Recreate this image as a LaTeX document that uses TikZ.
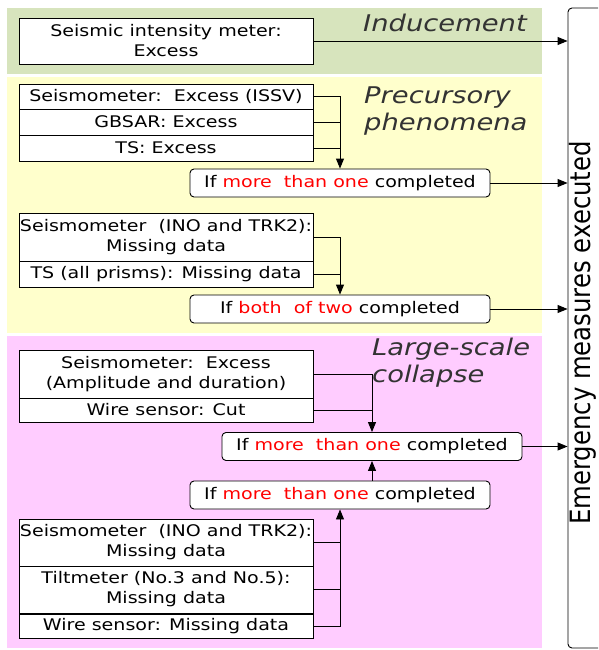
\documentclass[tikz,border=0pt]{standalone}
\usepackage{fontspec}
\setmainfont[FakeStretch=1.19]{DejaVu Sans}
\newfontfamily\sidefont[FakeStretch=0.87]{DejaVu Sans}
\usetikzlibrary{arrows.meta}

\definecolor{bandgreen}{RGB}{215,228,189}
\definecolor{bandyellow}{RGB}{255,255,204}
\definecolor{bandpink}{RGB}{255,204,255}

\tikzset{
    sensor/.style={draw,line width=0.9pt,fill=white,minimum width=294pt,inner sep=0pt,align=center,font=\fontsize{16}{20}\selectfont},
    cond/.style={draw,line width=0.9pt,fill=white,rounded corners=4pt,minimum width=300pt,minimum height=28pt,inner sep=0pt,font=\fontsize{16}{20}\selectfont},
    phase/.style={anchor=base west,inner sep=0pt,text=black!80,font=\fontsize{23}{27}\selectfont\itshape},
    link/.style={line width=0.9pt},
    go/.style={line width=0.9pt,-{Triangle[length=10pt,width=8pt]}},
}

\begin{document}
\begin{tikzpicture}[x=1pt,y=-1pt]
        \useasboundingbox (0,0) rectangle (598,650);
        \clip (0,0) rectangle (598,650);
        % background bands
        \fill[bandgreen]  (7,8)   rectangle (542,74);
        \fill[bandyellow] (7,77)  rectangle (542,333);
        \fill[bandpink]   (7,336) rectangle (542,648);

        \node[phase] (hind)  at (363,32)  {Inducement};
        \node[phase] (hpre1) at (364,103) {Precursory};
        \node[phase] (hpre2) at (364,130) {phenomena};
        \node[phase] (hlar1) at (372,355) {Large-scale};
        \node[phase] (hlar2) at (372,382) {collapse};

        \node[draw,line width=0.9pt,rounded corners=4pt,minimum width=40pt,minimum height=640pt] (emb) at (588,328) {};
        \node[rotate=90,inner sep=0pt,font=\sidefont\fontsize{28}{30}\selectfont] (embtext) at (583,333) {Emergency measures executed};

        \begin{scope}[every node/.append style={sensor}]
            \node[minimum height=46pt] (ind) at (166,41)    {Seismic intensity meter:\\Excess};

            \node[minimum height=25pt] (p1)  at (166,96.5)  {Seismometer:\ \ Excess (ISSV)};
            \node[minimum height=26pt] (p2)  at (166,122)   {GBSAR: Excess};
            \node[minimum height=26pt] (p3)  at (166,148)   {TS: Excess};

            \node[minimum height=48pt] (m1)  at (166,237)   {Seismometer\ \ (INO and TRK2):\\Missing data};
            \node[minimum height=26pt] (m2)  at (166,274)   {TS (all prisms): Missing data};

            \node[minimum height=48pt] (l1)  at (166,374)   {Seismometer:\ \ Excess\\(Amplitude and duration)};
            \node[minimum height=24pt] (l2)  at (166,410)   {Wire sensor: Cut};

            \node[minimum height=47pt] (b1)  at (166,542.5) {Seismometer\ \ (INO and TRK2):\\Missing data};
            \node[minimum height=47pt] (b2)  at (166,589.5) {Tiltmeter (No.3 and No.5):\\Missing data};
            \node[minimum height=24pt] (b3)  at (166,626)   {Wire sensor: Missing data};
        \end{scope}

        \begin{scope}[every node/.append style={cond}]
            \node (if1) at (340,183)   {If \textcolor{red}{more\ \ than one} completed};
            \node (if2) at (340,309)   {If \textcolor{red}{both\ \ of two} completed};
            \node (if3) at (372,446.5) {If \textcolor{red}{more\ \ than one} completed};
            \node (if4) at (340,495)   {If \textcolor{red}{more\ \ than one} completed};
        \end{scope}

        % into the conditions
        \draw[go] (p1.east) -| (if1.north);
        \foreach \s in {p2,p3} {\draw[link] (\s.east) -- (\s.east -| if1.north);}
        \draw[go] (m1.east) -| (if2.north);
        \draw[link] (m2.east) -- (m2.east -| if2.north);
        \draw[go] (l1.east) -| (if3.north);
        \draw[link] (l2.east) -- (l2.east -| if3.north);
        \draw[go] (b3.east) -| (if4.south);
        \foreach \s in {b1,b2} {\draw[link] (\s.east) -- (\s.east -| if4.south);}
        \draw[go] (if4.north -| if3.south) -- (if3.south);

        % out to the measures
        \draw[go] (ind.east) -- (ind.east -| emb.west);
        \foreach \c in {if1,if2,if3} {\draw[go] (\c.east) -- (\c.east -| emb.west);}
\end{tikzpicture}
\end{document}
